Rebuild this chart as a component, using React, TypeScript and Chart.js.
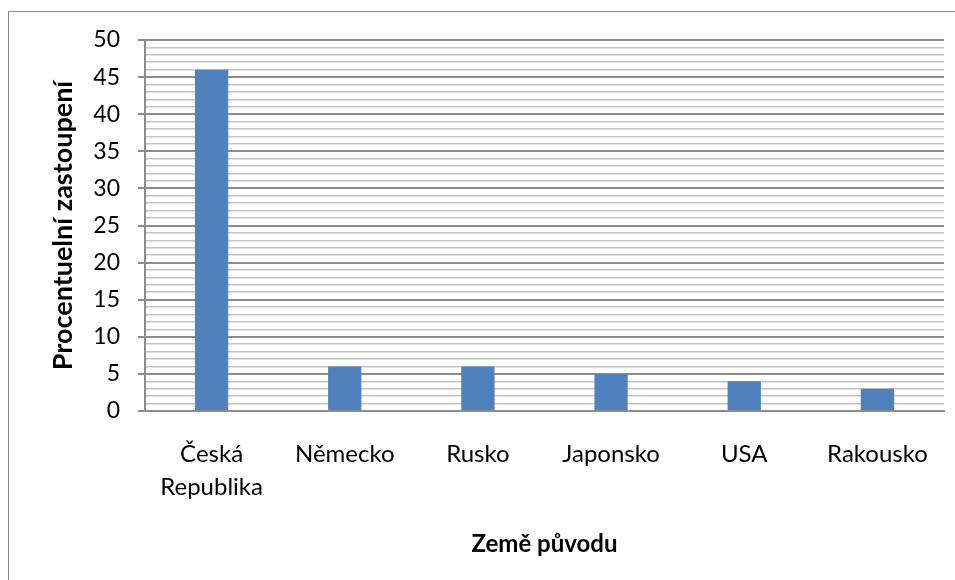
import React, { useEffect, useRef } from "react";
import { Chart, registerables } from "chart.js";

Chart.register(...registerables);

const categories: (string | string[])[] = [["Česká", "Republika"], "Německo", "Rusko", "Japonsko", "USA", "Rakousko"];
const values: number[] = [46, 6, 6, 5, 4, 3];
const yTitle = "Procentuelní zastoupení";
const xTitle = "Země původu";

const FONT = "Lato, 'Open Sans', sans-serif";

export default function App() {
  const ref = useRef<HTMLCanvasElement | null>(null);
  useEffect(() => {
    if (!ref.current) return;
    const borderPlugin = {
      id: "outerBorder",
      beforeDraw(chart: any) {
        const ctx = chart.ctx;
        ctx.save();
        ctx.fillStyle = "#ffffff";
        ctx.fillRect(0, 0, chart.width, chart.height);
        ctx.strokeStyle = "#8c8c8c";
        ctx.lineWidth = 1;
        ctx.strokeRect(8.5, 11.5, chart.width + 20, chart.height + 20);
        ctx.restore();
      },
    };
    const chart = new Chart(ref.current, {
      type: "bar",
      data: {
        labels: categories,
        datasets: [
          {
            data: values,
            backgroundColor: "#4f81bd",
            borderWidth: 0,
            barPercentage: 0.5,
            categoryPercentage: 0.5,
          },
        ],
      },
      options: {
        animation: false,
        responsive: false,
        maintainAspectRatio: false,
        layout: { padding: { left: 47, right: 11, top: 40, bottom: 0 } },
        plugins: { legend: { display: false }, tooltip: { enabled: false } },
        scales: {
          x: {
            grid: { display: false },
            border: { display: true, color: "#8c8c8c", width: 2 },
            ticks: {
              color: "#000",
              font: { family: FONT, size: 24, lineHeight: 1.38 },
              padding: 19,
              maxRotation: 0,
              autoSkip: false,
            },
            title: {
              display: true,
              text: xTitle,
              color: "#000",
              font: { family: FONT, size: 24, weight: "bold", lineHeight: 1.2 },
              padding: { top: 0, bottom: 21 },
            },
            afterFit(scale: any) {
              scale.height = 169;
            },
          },
          y: {
            min: 0,
            max: 50,
            grid: {
              color: (c: any) => (c.tick && c.tick.value % 5 === 0 ? "#8c8c8c" : "#c4c4c4"),
              lineWidth: (c: any) => (c.tick && c.tick.value % 5 === 0 ? 2 : 1.6),
              tickColor: (c: any) => (c.tick && c.tick.value % 5 === 0 ? "#8c8c8c" : "rgba(0,0,0,0)"),
              tickLength: 7,
              drawTicks: true,
            },
            border: { display: true, color: "#8c8c8c", width: 2 },
            ticks: {
              stepSize: 1,
              autoSkip: false,
              color: "#000",
              font: { family: FONT, size: 23 },
              padding: 18,
              callback: (v: any) => (Number(v) % 5 === 0 ? String(v) : ""),
            },
            title: {
              display: true,
              text: yTitle,
              color: "#000",
              font: { family: FONT, size: 27, weight: "bold", lineHeight: 1.2 },
              padding: { top: 0, bottom: 0 },
            },
            afterFit(scale: any) {
              scale.width = 98;
            },
          },
        },
      },
      plugins: [borderPlugin],
    });
    return () => chart.destroy();
  }, []);
  return (
    <canvas
      ref={ref}
      width={955}
      height={580}
      style={{ position: "absolute", left: 0, top: 0, width: 955, height: 580 }}
    />
  );
}
